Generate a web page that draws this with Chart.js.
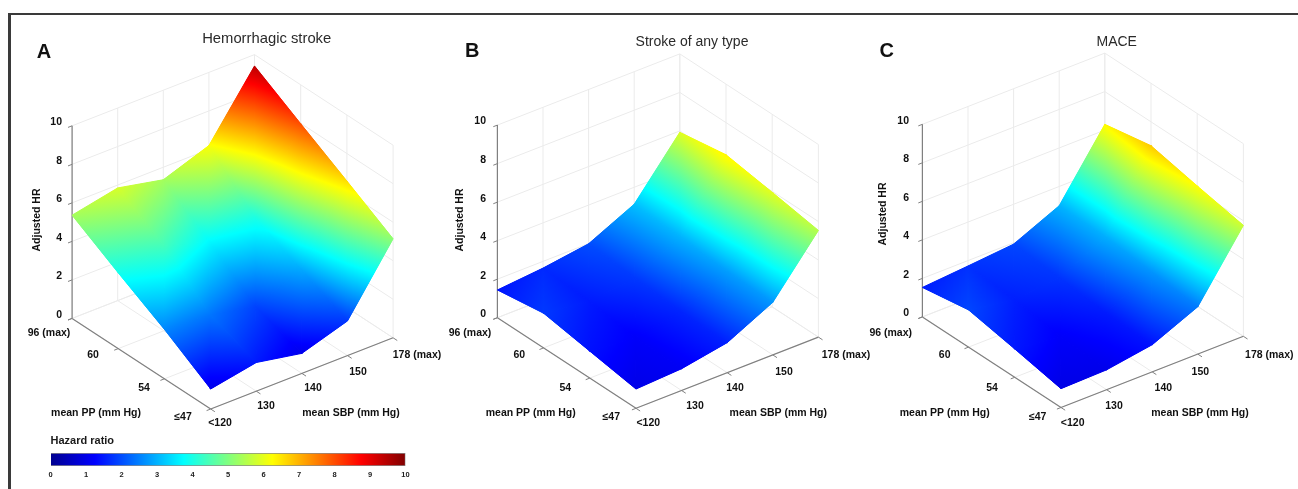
<!DOCTYPE html>
<html>
<head>
<meta charset="utf-8">
<title>Adjusted HR surfaces</title>
<script src="https://cdn.jsdelivr.net/npm/chart.js@4"></script>
<style>
  html, body { margin: 0; background: #fff; overflow: hidden; }
  #wrap { position: relative; width: 1298px; height: 489px; }
  #frame { position: absolute; left: 8px; top: 13px; width: 1290px; height: 476px; border-top: 2px solid #3a3a3a; border-left: 3px solid #3a3a3a; box-sizing: border-box; }
  canvas { position: absolute; filter: blur(0.4px); }
</style>
</head>
<body>
<div id="wrap">
  <div id="frame"></div>
  <canvas id="surfaces" width="1298" height="489" style="left:0;top:0"></canvas>
  <canvas id="colorbar" width="400" height="44" style="left:30px;top:435px"></canvas>
</div>
<script>
// tick labels
const sbpLabels = ["<120", "130", "140", "150", "178 (max)"]
const ppLabels = ["≤47", "54", "60", "96 (max)"]
const hrTicks = [0, 2, 4, 6, 8, 10]
const barTicks = [0, 1, 2, 3, 4, 5, 6, 7, 8, 9, 10]

// adjusted HR, one row per PP level (≤47 first), one column per SBP level
const hemorrhagicHR = [
    [1.04, 1.49, 1.04, 1.80, 5.14],
    [2.56, 2.40, 1.90, 2.90, 6.57],
    [3.93, 4.40, 3.70, 4.00, 7.98],
    [5.36, 5.85, 5.35, 6.20, 9.41]
]
const anyStrokeHR = [
    [1.00, 1.13, 1.56, 2.73, 5.54],
    [1.40, 1.20, 1.60, 2.80, 5.95],
    [1.80, 1.50, 1.80, 3.00, 6.33],
    [1.44, 1.65, 1.99, 3.12, 5.93]
]
const maceHR = [
    [0.98, 1.03, 1.41, 2.46, 5.76],
    [1.47, 1.20, 1.50, 2.70, 6.24],
    [1.93, 1.55, 1.75, 2.95, 6.76],
    [1.53, 1.72, 1.93, 3.00, 6.30]
]

// jet colormap used by the surfaces and the colorbar
const jetStops = [0, 0.125, 0.375, 0.625, 0.875, 1]
const jetColors = ["#00008f", "#0000ff", "#00ffff", "#ffff00", "#ff0000", "#800000"]

// view: pixels per grid step on the floor, pixels per HR unit
const sbpStep = { x: 45.6, y: -17.8 }
const ppStep = { x: -46.2, y: -30.2 }
const hrUnit = 19.26
const lastSbp = sbpLabels.length - 1
const lastPp = ppLabels.length - 1

const panels = [
    {
        hr: hemorrhagicHR, title: "Hemorrhagic stroke", letter: "A",
        origin: { x: 210.7, y: 409 }, titleAt: [266.7, 39], titleSize: 14.8, letterAt: [44, 52],
        hrRight: 62, hrLabel: [37, 220],
        ppAt: [[183, 417], [144, 388], [93, 355], [49, 333]],
        sbpAt: [[220, 423], [266, 406], [313, 388], [358, 372], [417, 355]],
        ppName: [96, 413], sbpName: [351, 413]
    },
    {
        hr: anyStrokeHR, title: "Stroke of any type", letter: "B",
        origin: { x: 636, y: 408.3 }, titleAt: [692, 41.7], titleSize: 14, letterAt: [472.3, 51.7],
        hrRight: 486, hrLabel: [460, 220],
        ppAt: [[611.3, 417], [565.3, 388], [519.3, 355], [470, 333]],
        sbpAt: [[648.3, 423], [695, 406], [735, 388], [784, 372], [846, 355]],
        ppName: [530.7, 413], sbpName: [778.3, 413]
    },
    {
        hr: maceHR, title: "MACE", letter: "C",
        origin: { x: 1061, y: 407.5 }, titleAt: [1116.7, 41.7], titleSize: 14, letterAt: [886.7, 51.7],
        hrRight: 909, hrLabel: [882.7, 214],
        ppAt: [[1037.7, 417], [992, 388], [944.7, 355], [890.7, 333]],
        sbpAt: [[1072.7, 423], [1114, 406], [1163.3, 388], [1200.3, 372], [1269.3, 355]],
        ppName: [944.7, 413], sbpName: [1200, 413]
    }
]

function project(panel, i, j, hr) {
    return {
        x: panel.origin.x + i * sbpStep.x + j * ppStep.x,
        y: panel.origin.y + i * sbpStep.y + j * ppStep.y - hr * hrUnit
    }
}

function jetGradient(ctx, x0, y0, x1, y1) {
    let g = ctx.createLinearGradient(x0, y0, x1, y1)
    jetStops.forEach((s, k) => g.addColorStop(s, jetColors[k]))
    return g
}

// HR is linear over a triangle, so a linear gradient along its slope gives the exact colours
function triangleGradient(ctx, pts, vals) {
    let ax = pts[1].x - pts[0].x, ay = pts[1].y - pts[0].y
    let bx = pts[2].x - pts[0].x, by = pts[2].y - pts[0].y
    let dz1 = vals[1] - vals[0], dz2 = vals[2] - vals[0]
    let det = ax * by - ay * bx
    let gx = (dz1 * by - dz2 * ay) / det
    let gy = (dz2 * ax - dz1 * bx) / det
    let len = gx * gx + gy * gy
    if (len === 0) {
        gx = 0; gy = -1 / hrUnit; len = gy * gy
    }
    let from = vals[0] / len, to = (10 - vals[0]) / len
    return jetGradient(ctx, pts[0].x - gx * from, pts[0].y - gy * from, pts[0].x + gx * to, pts[0].y + gy * to)
}

function lineSet(a, b, color, width, order) {
    return { data: [a, b], showLine: true, pointRadius: 0, borderColor: color, borderWidth: width, fill: false, order: order }
}

function panelDatasets(ctx, panel) {
    let sets = []
    const gridColor = "#ebebeb"
    const axisColor = "#808080"
    const p = (i, j, hr) => project(panel, i, j, hr)

    // back walls and floor
    hrTicks.forEach(t => {
        sets.push(lineSet(p(0, lastPp, t), p(lastSbp, lastPp, t), gridColor, 1, 100))
        sets.push(lineSet(p(lastSbp, lastPp, t), p(lastSbp, 0, t), gridColor, 1, 100))
    })
    sbpLabels.forEach((_, i) => {
        sets.push(lineSet(p(i, lastPp, 0), p(i, lastPp, 10), gridColor, 1, 100))
        sets.push(lineSet(p(i, 0, 0), p(i, lastPp, 0), gridColor, 1, 100))
    })
    ppLabels.forEach((_, j) => {
        sets.push(lineSet(p(lastSbp, j, 0), p(lastSbp, j, 10), gridColor, 1, 100))
        sets.push(lineSet(p(0, j, 0), p(lastSbp, j, 0), gridColor, 1, 100))
    })

    // axis lines and their small ticks
    sets.push(lineSet(p(0, lastPp, 0), p(0, lastPp, 10), axisColor, 1.2, 90))
    sets.push(lineSet(p(0, 0, 0), p(0, lastPp, 0), axisColor, 1.2, 90))
    sets.push(lineSet(p(0, 0, 0), p(lastSbp, 0, 0), axisColor, 1.2, 90))
    hrTicks.forEach(t => sets.push(lineSet(p(0, lastPp, t), p(-0.09, lastPp, t), axisColor, 1, 90)))
    ppLabels.forEach((_, j) => sets.push(lineSet(p(0, j, 0), p(-0.09, j, 0), axisColor, 1, 90)))
    sbpLabels.forEach((_, i) => sets.push(lineSet(p(i, 0, 0), p(i, -0.09, 0), axisColor, 1, 90)))

    // surface, back cells drawn first. Each triangle goes down twice:
    // a stroked underlay to close the hairline seams, then the clean fill
    for (let j = lastPp - 1; j >= 0; j--) {
        for (let i = lastSbp - 1; i >= 0; i--) {
            let corners = [[i, j], [i + 1, j], [i + 1, j + 1], [i, j + 1]]
            let tris = [[corners[0], corners[1], corners[2]], [corners[0], corners[2], corners[3]]]
            tris.forEach(tri => {
                let vals = tri.map(c => panel.hr[c[1]][c[0]])
                let pts = tri.map((c, k) => p(c[0], c[1], vals[k]))
                let g = triangleGradient(ctx, pts, vals)
                let shape = [pts[0], pts[1], pts[2], pts[0]]
                sets.push({
                    data: shape, showLine: true, pointRadius: 0, fill: "shape",
                    backgroundColor: g, borderColor: g, borderWidth: 1,
                    order: 20 + (j + i) * 0.1
                })
                sets.push({
                    data: shape, showLine: true, pointRadius: 0, fill: "shape",
                    backgroundColor: g, borderColor: "transparent", borderWidth: 0,
                    order: 10 + (j + i) * 0.1
                })
            })
        }
    }
    return sets
}

const labelsPlugin = {
    id: "panelLabels",
    afterDatasetsDraw(chart) {
        let ctx = chart.ctx
        ctx.save()
        ctx.textBaseline = "middle"
        panels.forEach(panel => {
            ctx.textAlign = "center"
            ctx.font = "normal " + panel.titleSize + "px 'Liberation Sans'"
            ctx.fillStyle = "#2a2a2a"
            ctx.fillText(panel.title, panel.titleAt[0], panel.titleAt[1])
            ctx.fillStyle = "#111"
            ctx.font = "bold 20px 'Liberation Sans'"
            ctx.fillText(panel.letter, panel.letterAt[0], panel.letterAt[1])
            ctx.font = "bold 10.5px 'Liberation Sans'"
            ppLabels.forEach((t, j) => ctx.fillText(t, panel.ppAt[j][0], panel.ppAt[j][1]))
            sbpLabels.forEach((t, i) => ctx.fillText(t, panel.sbpAt[i][0], panel.sbpAt[i][1]))
            ctx.fillText("mean PP (mm Hg)", panel.ppName[0], panel.ppName[1])
            ctx.fillText("mean SBP (mm Hg)", panel.sbpName[0], panel.sbpName[1])
            ctx.textAlign = "right"
            hrTicks.forEach(t => {
                ctx.fillText(t, panel.hrRight, project(panel, 0, lastPp, t).y - 3.5)
            })
            ctx.save()
            ctx.translate(panel.hrLabel[0], panel.hrLabel[1])
            ctx.rotate(-Math.PI / 2)
            ctx.textAlign = "center"
            ctx.fillText("Adjusted HR", 0, 0)
            ctx.restore()
        })
        ctx.restore()
    }
}

const surfaceCanvas = document.getElementById("surfaces")
const surfaceCtx = surfaceCanvas.getContext("2d")
let surfaceSets = []
panels.forEach(panel => {
    surfaceSets = surfaceSets.concat(panelDatasets(surfaceCtx, panel))
})

new Chart(surfaceCanvas, {
    type: "scatter",
    data: { datasets: surfaceSets },
    options: {
        responsive: false,
        animation: false,
        events: [],
        layout: { padding: 0 },
        plugins: { legend: { display: false }, tooltip: { enabled: false } },
        scales: {
            x: { type: "linear", display: false, min: 0, max: 1298 },
            y: { type: "linear", display: false, min: 0, max: 489, reverse: true }
        }
    },
    plugins: [labelsPlugin]
})

const hazardTitle = {
    id: "hazardTitle",
    afterDraw(chart) {
        let ctx = chart.ctx
        ctx.save()
        ctx.font = "bold 11px 'Liberation Sans'"
        ctx.fillStyle = "#1a1a1a"
        ctx.textBaseline = "middle"
        ctx.fillText("Hazard ratio", 20.5, 6)
        ctx.restore()
    }
}

new Chart(document.getElementById("colorbar"), {
    type: "bar",
    data: {
        labels: ["Hazard ratio"],
        datasets: [{
            data: [barTicks[barTicks.length - 1]],
            barPercentage: 1,
            categoryPercentage: 1,
            borderColor: "#8a8a8a",
            borderWidth: 1,
            backgroundColor: c => {
                let area = c.chart.chartArea
                if (!area) return jetColors[0]
                return jetGradient(c.chart.ctx, area.left, 0, area.right, 0)
            }
        }]
    },
    options: {
        indexAxis: "y",
        responsive: false,
        animation: false,
        events: [],
        layout: { padding: { left: 20.5, right: 24.5, top: 18, bottom: 0 } },
        plugins: { legend: { display: false }, tooltip: { enabled: false } },
        scales: {
            y: { display: false },
            x: {
                min: 0, max: 10,
                border: { display: false },
                grid: { drawOnChartArea: false, drawTicks: false },
                ticks: {
                    stepSize: 1, padding: 4, maxRotation: 0,
                    color: "#222",
                    font: { family: "'Liberation Sans'", size: 7.5, weight: "bold" }
                }
            }
        }
    },
    plugins: [hazardTitle]
})
</script>
</body>
</html>
